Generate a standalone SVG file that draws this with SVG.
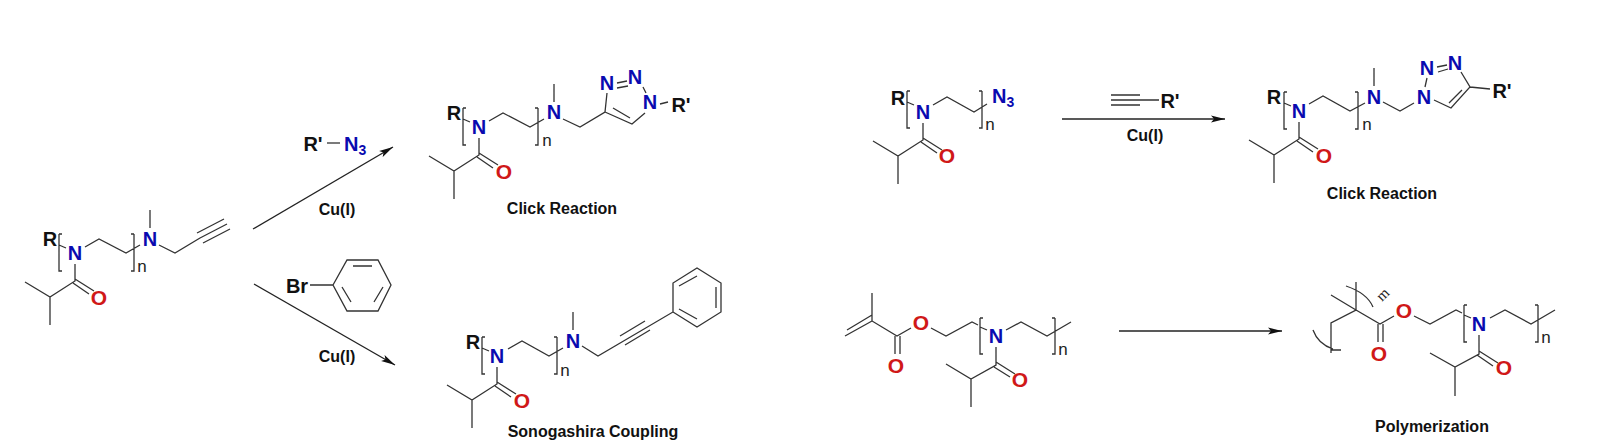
<svg xmlns="http://www.w3.org/2000/svg" width="1602" height="445" viewBox="0 0 1602 445">
<defs>
<marker id="ah" markerUnits="userSpaceOnUse" markerWidth="14" markerHeight="8" refX="14" refY="4" orient="auto"><path d="M0 0.5L14 4L0 7.5L3 4Z" fill="#111"/></marker>
</defs>
<style>
.b{fill:none;stroke:#333;stroke-width:1.3}
.a{fill:none;stroke:#222;stroke-width:1.3;marker-end:url(#ah)}
text{font-family:"Liberation Sans",Arial,sans-serif;text-anchor:middle}
.N{font-size:20px;font-weight:bold;fill:#0a0ab0}
.O{font-size:21px;font-weight:bold;fill:#d01818}
.R{font-size:20px;font-weight:bold;fill:#111}
.n{font-size:17px;fill:#222}
.L{font-size:16px;font-weight:bold;fill:#111}
.c{font-size:16px;font-weight:bold;fill:#111}
.s{text-anchor:start}
</style>
<rect width="1602" height="445" fill="#fff"/>
<g id="connectors">
<path class="a" d="M253 229L393 147"/>
<path class="a" d="M254 284L395 365"/>
<path class="a" d="M1062 119H1225"/>
<path class="a" d="M1119 331H1282"/>
</g>
<g id="n1-alkyne-polymer">
<path class="b" d="M59 234h3M59 234v37h3M134 234h-3M134 234v37h-3M59 245L66 248M85 247L99 239L126 253L140 245M75 264V281L50 297L25 282M50 297V325M75 279L94 291M73 283L89 294M150 210V228M159 245L175 253L200 238M197 233L224 219M200 238L227 224M203 243L230 229"/>
<text class="R" x="50" y="246">R</text><text class="N" x="75" y="260">N</text><text class="N" x="150" y="246">N</text><text class="n" x="142" y="272">n</text><text class="O" x="99" y="305">O</text>
</g>
<g id="r-azide-reagent">
<path class="b" d="M327 143H340"/>
<text class="R" x="313" y="151">R'</text><text class="N s" x="344" y="151">N<tspan font-size="14" dy="4">3</tspan></text>
</g>
<g id="bromobenzene">
<path class="b" d="M310 285H333M333 285L347 260H378L391 285L378 311H347ZM353 266H372M383 287L374 302M342 287L351 302"/>
<text class="R" x="297" y="293">Br</text>
</g>
<text class="c" x="337" y="215" id="cu1">Cu(I)</text>
<text class="c" x="337" y="362" id="cu2">Cu(I)</text>
<g id="n2-click-product">
<path class="b" d="M463 108h3M463 108v37h3M538 108h-3M538 108v37h-3M463 119L470 122M489 121L503 113L530 127L544 119M479 138V155L454 171L429 156M454 171V199M479 153L498 165M477 157L493 168M554 84V102M563 119L580 127L605 112L607 93M605 112L632 124L645 113M613 108L630 118M617 83L627 81M617 88L628 86M643 87L646 93M660 104L668 102"/>
<text class="R" x="454" y="120">R</text><text class="N" x="479" y="134">N</text><text class="N" x="554" y="119">N</text><text class="N" x="607" y="90">N</text><text class="N" x="635" y="84">N</text><text class="N" x="650" y="109">N</text><text class="R" x="681" y="112">R'</text><text class="n" x="547" y="146">n</text><text class="O" x="504" y="179">O</text>
<text class="L" x="562" y="214">Click Reaction</text>
</g>
<g id="n3-sonogashira-product">
<path class="b" d="M482 337h3M482 337v37h3M557 337h-3M557 337v37h-3M482 348L489 351M508 349L522 341L549 356L563 348M497 367V384L472 400L447 385M472 400V428M497 382L516 394M495 386L511 397M573 312V330M582 346L598 356L673 312V283L697 268L721 283V312L697 327L673 312M620 336L645 321M625 345L650 330M679 286L697 276M697 319L679 309M716 287V308"/>
<text class="R" x="473" y="349">R</text><text class="N" x="497" y="363">N</text><text class="N" x="573" y="348">N</text><text class="n" x="565" y="376">n</text><text class="O" x="522" y="408">O</text>
<text class="L" x="593" y="437">Sonogashira Coupling</text>
</g>
<g id="n4-azide">
<path class="b" d="M907 91h3M907 91v37h3M982 91h-3M982 91v37h-3M907 102L914 105M933 105L947 97L974 112L987 104M923 123V140L898 156L873 141M898 156V184M923 138L942 150M921 142L937 153"/>
<text class="R" x="898" y="105">R</text><text class="N" x="923" y="119">N</text><text class="N s" x="992" y="103">N<tspan font-size="14" dy="4">3</tspan></text><text class="n" x="990" y="130">n</text><text class="O" x="947" y="163">O</text>
</g>
<g id="alkyne-reagent">
<path class="b" d="M1111 95H1140M1111 100H1159M1111 105H1140"/>
<text class="R" x="1170" y="108">R'</text>
</g>
<text class="c" x="1145" y="141" id="cu3">Cu(I)</text>
<g id="n5-click-product">
<path class="b" d="M1284 92h3M1284 92v37h3M1358 92h-3M1358 92v37h-3M1284 103L1291 106M1309 104L1323 96L1350 111L1365 103M1299 122V139L1274 155L1249 140M1274 155V183M1299 137L1318 149M1297 141L1313 152M1374 68V86M1383 102L1400 111L1414 103M1434 100L1451 108L1470 87L1461 72M1449 103L1462 90M1427 78L1425 87M1437 67L1447 65M1438 72L1448 69M1470 87L1490 89"/>
<text class="R" x="1274" y="104">R</text><text class="N" x="1299" y="118">N</text><text class="N" x="1374" y="104">N</text><text class="N" x="1424" y="104">N</text><text class="N" x="1427" y="75">N</text><text class="N" x="1455" y="70">N</text><text class="R" x="1502" y="98">R'</text><text class="n" x="1367" y="130">n</text><text class="O" x="1324" y="163">O</text>
<text class="L" x="1382" y="199">Click Reaction</text>
</g>
<g id="n6-monomer">
<path class="b" d="M980 318h3M980 318v36h3M1055 318h-3M1055 318v36h-3M980 327L987 330M1006 330L1021 322L1047 336L1071 322M996 347V365L971 379L946 364M971 379V407M996 362L1015 374M994 367L1010 377M872 293V321L897 336L911 328M931 328L946 336L972 322L978 325M872 321L845 336M872 315L847 330M895 336V354M900 336V354"/>
<text class="O" x="921" y="330">O</text><text class="O" x="896" y="373">O</text><text class="N" x="996" y="343">N</text><text class="n" x="1063" y="355">n</text><text class="O" x="1020" y="387">O</text>
</g>
<g id="n7-polymer">
<path class="b" d="M1464 305h3M1464 305v37h3M1538 305h-3M1538 305v37h-3M1464 315L1471 318M1490 318L1505 310L1531 324L1555 310M1479 335V354L1455 367L1430 353M1455 367V396M1479 351L1498 363M1477 355L1493 366M1331 295L1356 310L1380 324L1394 316M1414 316L1430 324L1456 310L1462 313M1356 282V310L1331 323V353M1331 350H1341M1346 286Q1367 293 1373 307M1313 330Q1318 344 1333 349M1378 324V342M1383 324V342"/>
<text class="O" x="1404" y="318">O</text><text class="O" x="1379" y="361">O</text><text class="N" x="1479" y="331">N</text><text class="n" x="1546" y="343">n</text><text class="O" x="1504" y="375">O</text>
<text transform="translate(1386 298) rotate(-45)" style="font-family:'Liberation Serif',serif;font-size:15px;fill:#222">m</text>
<text class="L" x="1432" y="432">Polymerization</text>
</g>
</svg>
